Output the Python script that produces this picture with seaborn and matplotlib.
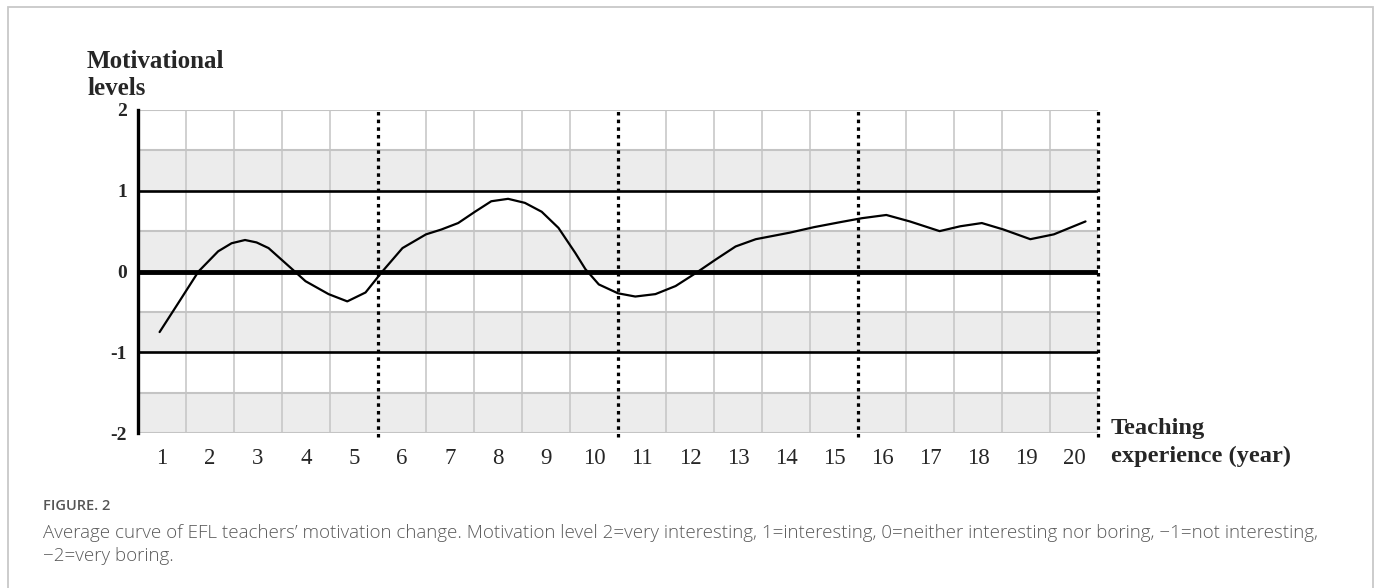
import seaborn as sns
import matplotlib.pyplot as plt
import pandas as pd
from matplotlib.patches import Rectangle

# values (year, motivation level)
years = [0.95, 1.34, 1.76, 2.17, 2.45, 2.73, 2.97, 3.22, 3.71, 3.99, 4.47, 4.86,
         5.24, 5.59, 6.01, 6.5, 6.82, 7.17, 7.52, 7.86, 8.21, 8.56, 8.91, 9.26,
         9.61, 9.82, 10.1, 10.5, 10.86, 11.28, 11.7, 12.12, 12.54, 12.95, 13.37,
         13.72, 14.07, 14.59, 15.12, 15.58, 16.09, 16.58, 17.2, 17.63, 18.08,
         18.53, 19.09, 19.58, 20.24]
levels = [-0.75, -0.39, 0.0, 0.25, 0.35, 0.39, 0.36, 0.29, 0.03, -0.12, -0.28, -0.37,
          -0.26, 0.0, 0.29, 0.46, 0.52, 0.60, 0.74, 0.87, 0.90, 0.85, 0.74, 0.54,
          0.23, 0.03, -0.16, -0.27, -0.31, -0.28, -0.18, -0.02, 0.15, 0.31, 0.40,
          0.44, 0.48, 0.55, 0.61, 0.66, 0.70, 0.62, 0.50, 0.56, 0.60,
          0.52, 0.40, 0.46, 0.62]

x_ticks = list(range(1, 21))
y_ticks = [2, 1, 0, -1, -2]
y_labels = ["2", "1", "0", "-1", "-2"]
grey_bands = [(1, 1.5), (0, 0.5), (-1, -0.5), (-2, -1.5)]
stage_bounds = [5.5, 10.5, 15.5, 20.5]

df = pd.DataFrame({"year": years, "level": levels})

sns.set_style("white")
plt.rcParams["font.family"] = ["Liberation Serif", "DejaVu Serif"]

fig = plt.figure(figsize=(13.75, 5.88), dpi=100)
ax = fig.add_axes([138 / 1375, 155 / 588, 960 / 1375, 323 / 588])

# shaded bands
for lo, hi in grey_bands:
    ax.axhspan(lo, hi, color="#ececec", lw=0, zorder=0)

# light grid
for gx in [i + 0.5 for i in range(1, 20)]:
    if gx not in stage_bounds:
        ax.axvline(gx, color="#c4c4c4", lw=1.1, zorder=1)
for gy in [2, 1.5, 0.5, -0.5, -1.5, -2]:
    ax.axhline(gy, color="#c4c4c4", lw=1.5, zorder=1)

ax.axhline(1, color="black", lw=1.9, zorder=2)
ax.axhline(-1, color="black", lw=1.9, zorder=2)
ax.axhline(0, color="black", lw=3.5, zorder=2)

for sx in stage_bounds:
    ax.axvline(sx, color="black", lw=2.3, ls=(0, (1.1, 1.3)), zorder=3,
               ymin=-0.012, clip_on=False)

line = sns.lineplot(data=df, x="year", y="level", color="black", lw=1.6,
                    estimator=None, sort=False, ax=ax, zorder=4)
for ln in ax.lines[-1:]:
    ln.set_solid_joinstyle("round")
    ln.set_solid_capstyle("round")

ax.set_xlim(0.5, 20.5)
ax.set_ylim(-2, 2)
ax.set_xticks(x_ticks)
ax.set_xticklabels([str(t) for t in x_ticks], fontsize=16.5)
ax.set_yticks(y_ticks)
ax.set_yticklabels(y_labels, fontsize=14, fontweight="bold")
ax.tick_params(axis="both", length=0)
ax.tick_params(axis="x", pad=11)
ax.tick_params(axis="y", pad=8)
ax.set_xlabel("")
ax.set_ylabel("")

for side in ["top", "right", "bottom"]:
    ax.spines[side].set_visible(False)
ax.spines["left"].set_color("black")
ax.spines["left"].set_linewidth(2.4)
ax.spines["left"].set_zorder(5)

fig.text(87 / 1375, 1 - 68 / 588, "Motivational", fontsize=18, fontweight="bold",
         ha="left", va="baseline")
fig.text(87 / 1375, 1 - 95 / 588, "levels", fontsize=18, fontweight="bold",
         ha="left", va="baseline")
fig.text(1111 / 1375, 1 - 434 / 588, "Teaching", fontsize=17.6, fontweight="bold",
         ha="left", va="baseline")
fig.text(1111 / 1375, 1 - 462 / 588, "experience (year)", fontsize=17.6,
         fontweight="bold", ha="left", va="baseline")

cap = ["Open Sans", "DejaVu Sans"]
fig.text(43 / 1375, 1 - 510 / 588, "FIGURE. 2", fontsize=10.5, color="#555555",
         family=cap, fontweight="semibold", ha="left", va="baseline")
fig.text(43 / 1375, 1 - 538 / 588,
         "Average curve of EFL teachers\u2019 motivation change. Motivation level "
         "2=very interesting, 1=interesting, 0=neither interesting nor boring, "
         "\u22121=not interesting,",
         fontsize=13.5, color="#5a5a5a", family=cap, fontweight="light",
         ha="left", va="baseline")
fig.text(43 / 1375, 1 - 561 / 588, "\u22122=very boring.", fontsize=13.5,
         color="#5a5a5a", family=cap, fontweight="light", ha="left", va="baseline")

fig.patches.append(Rectangle((8 / 1375, -0.05), 1365 / 1375, 1.05 - 7 / 588,
                             transform=fig.transFigure, fill=False,
                             edgecolor="#c8c8c8", lw=1.3))

fig.savefig("out.png", dpi=100)
